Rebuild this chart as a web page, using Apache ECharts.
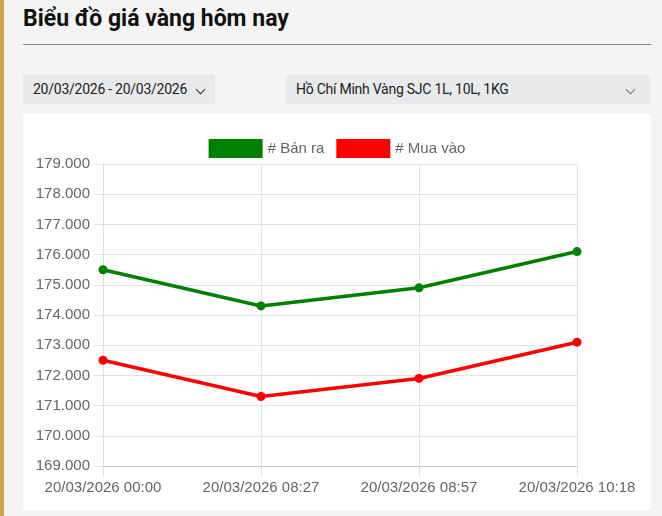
<!DOCTYPE html>
<html>
<head>
<meta charset="utf-8">
<script src="https://cdn.jsdelivr.net/npm/echarts@6/dist/echarts.min.js"></script>
<style>
  html, body { margin:0; padding:0; }
  body { width:662px; height:516px; background:#f4f4f4; position:relative; overflow:hidden; font-family: Roboto, "Liberation Sans", sans-serif; }
  #bar { position:absolute; left:0; top:0; width:4px; height:516px; background:#d4a44c; }
  #title { position:absolute; left:23px; top:5px; font-size:23px; font-weight:700; color:#111; letter-spacing:0px; }
  #rule { position:absolute; left:23px; top:44px; width:628px; height:1px; background:#8a8a8a; }
  .dd { position:absolute; top:75px; height:29px; background:#e9eaec; font-size:14px; color:#222; line-height:29px; letter-spacing:-0.25px; }
  #dd1 { left:23px; width:192px; }
  #dd2 { left:286px; width:365px; }
  .dd span.t { position:absolute; left:10px; }
  .chev { position:absolute; top:11px; width:6px; height:6px; border-right:1.3px solid #333; border-bottom:1.3px solid #333; transform:rotate(45deg); }
  #panel { position:absolute; left:23px; top:114px; width:628px; height:396px; background:#fff; }
</style>
</head>
<body>
<div id="bar"></div>
<div id="title">Biểu đồ giá vàng hôm nay</div>
<div id="rule"></div>
<div class="dd" id="dd1"><span class="t">20/03/2026 - 20/03/2026</span><div class="chev" style="left:174px;"></div></div>
<div class="dd" id="dd2"><span class="t">Hồ Chí Minh Vàng SJC 1L, 10L, 1KG</span><div class="chev" style="left:341px;border-color:#777;"></div></div>
<div id="panel"></div>
<script>
const categories = ["20/03/2026 00:00", "20/03/2026 08:27", "20/03/2026 08:57", "20/03/2026 10:18"];
const banRa = [175500, 174300, 174900, 176100];
const muaVao = [172500, 171300, 171900, 173100];
const seriesNames = ["# Bán ra", "# Mua vào"];

function fmt(v) {
  return String(v).replace(/\B(?=(\d{3})+(?!\d))/g, ".");
}

const chart = echarts.init(document.getElementById('panel'), null, { renderer: 'canvas' });
const font = '"Liberation Sans", Arial, sans-serif';
chart.setOption({
  animation: false,
  legend: {
    top: 20,
    left: 'center',
    icon: 'rect',
    itemWidth: 54,
    itemHeight: 19,
    itemGap: 12,
    textStyle: { fontFamily: font, fontSize: 15, color: '#666' },
    data: seriesNames
  },
  grid: { left: 80, right: 74, top: 50, bottom: 44 },
  xAxis: {
    type: 'category',
    data: categories,
    boundaryGap: false,
    axisLine: { lineStyle: { color: '#c8c8c8', width: 1 } },
    axisTick: { show: true, length: 10, lineStyle: { color: '#dcdcdc' } },
    splitLine: { show: true, lineStyle: { color: '#e3e3e3' } },
    axisLabel: { fontFamily: font, fontSize: 15, color: '#666', margin: 14 }
  },
  yAxis: {
    type: 'value',
    min: 169000,
    max: 179000,
    interval: 1000,
    axisLine: { show: true, lineStyle: { color: '#dcdcdc' } },
    axisTick: { show: true, length: 9, lineStyle: { color: '#e3e3e3' } },
    splitLine: { show: true, lineStyle: { color: '#e3e3e3' } },
    axisLabel: { fontFamily: font, fontSize: 15, color: '#666', margin: 13, formatter: fmt }
  },
  series: [
    {
      name: seriesNames[0], type: 'line', data: banRa,
      color: '#008000', symbol: 'circle', symbolSize: 9,
      lineStyle: { width: 3.5, color: '#008000' }, itemStyle: { color: '#008000' }
    },
    {
      name: seriesNames[1], type: 'line', data: muaVao,
      color: '#ff0000', symbol: 'circle', symbolSize: 9,
      lineStyle: { width: 3.5, color: '#ff0000' }, itemStyle: { color: '#ff0000' }
    }
  ]
});
</script>
</body>
</html>
